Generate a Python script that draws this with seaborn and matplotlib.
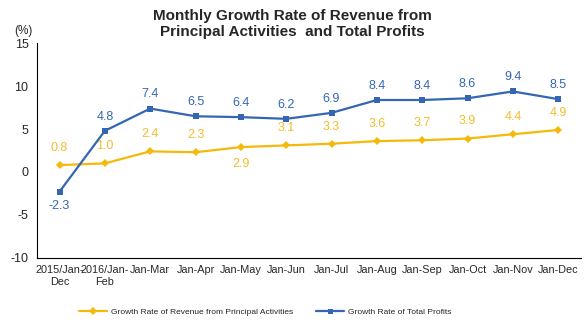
import matplotlib
matplotlib.use("Agg")
import matplotlib.pyplot as plt
import seaborn as sns
import pandas as pd
import numpy as np

categories = ["2015/Jan-\nDec", "2016/Jan-\nFeb", "Jan-Mar", "Jan-Apr", "Jan-May", "Jan-Jun",
              "Jan-Jul", "Jan-Aug", "Jan-Sep", "Jan-Oct", "Jan-Nov", "Jan-Dec"]
revenue = [0.8, 1.0, 2.4, 2.3, 2.9, 3.1, 3.3, 3.6, 3.7, 3.9, 4.4, 4.9]
profits = [-2.3, 4.8, 7.4, 6.5, 6.4, 6.2, 6.9, 8.4, 8.4, 8.6, 9.4, 8.5]
rev_name = "Growth Rate of Revenue from Principal Activities"
prof_name = "Growth Rate of Total Profits"

sns.set_style("white")
plt.rcParams["font.family"] = ["Liberation Sans", "DejaVu Sans"]
plt.rcParams["axes.unicode_minus"] = False

YELLOW = "#F5B90A"
YELLOW_TXT = "#F2BE2A"
BLUE = "#3566B3"

df = pd.DataFrame({"x": np.arange(len(categories)), "rev": revenue, "prof": profits})

fig = plt.figure(figsize=(5.85, 3.22), dpi=100)
ax = fig.add_axes([0.063, 0.200, 0.93, 0.665])

sns.lineplot(data=df, x="x", y="rev", ax=ax, color=YELLOW, marker="D", markersize=4.5,
             markeredgewidth=0, linewidth=1.6, label=rev_name)
sns.lineplot(data=df, x="x", y="prof", ax=ax, color=BLUE, marker="s", markersize=4.5,
             markeredgewidth=0, linewidth=1.6, label=prof_name)

for i, v in enumerate(revenue):
    below = (i == 4)
    ax.annotate(f"{v:.1f}", (i, v), xytext=(0, -8 if below else 8), textcoords="offset points",
                ha="center", va="top" if below else "bottom", fontsize=9, color=YELLOW_TXT)
for i, v in enumerate(profits):
    below = v < 0
    ax.annotate(f"{v:.1f}", (i, v), xytext=(0, -6 if below else 6), textcoords="offset points",
                ha="center", va="top" if below else "bottom", fontsize=9, color=BLUE)

ax.set_xlim(-0.5, len(categories) - 0.5)
ax.set_ylim(-10, 15)
ax.set_yticks([-10, -5, 0, 5, 10, 15])
ax.set_xticks(np.arange(len(categories)))
ax.set_xticklabels(categories, fontsize=7.8)
ax.set_xticks(np.arange(len(categories) + 1) - 0.5, minor=True)
ax.tick_params(axis="x", which="major", length=0, pad=5)
ax.tick_params(axis="x", which="minor", length=4, width=0.8, color="black", direction="out")
ax.tick_params(axis="y", length=4, width=0.8, color="black", direction="out", labelsize=9, pad=2)
for lbl in ax.get_xticklabels():
    lbl.set_linespacing(1.3)
ax.set_xlabel("")
ax.set_ylabel("")
for s in ["top", "right"]:
    ax.spines[s].set_visible(False)
for s in ["left", "bottom"]:
    ax.spines[s].set_color("black")
    ax.spines[s].set_linewidth(0.8)

fig.text(0.04, 0.885, "(%)", fontsize=8.5, ha="center", va="bottom")
fig.text(0.5, 0.925, "Monthly Growth Rate of Revenue from\nPrincipal Activities  and Total Profits",
         ha="center", va="center", fontsize=11, fontweight="bold", linespacing=1.15)

ax.legend(loc="upper center", bbox_to_anchor=(0.42, -0.2), ncol=2, frameon=False,
          fontsize=6.0, handlelength=3.3, handletextpad=0.5, columnspacing=2.8, markerscale=0.8)

fig.savefig("out.png", dpi=100)
